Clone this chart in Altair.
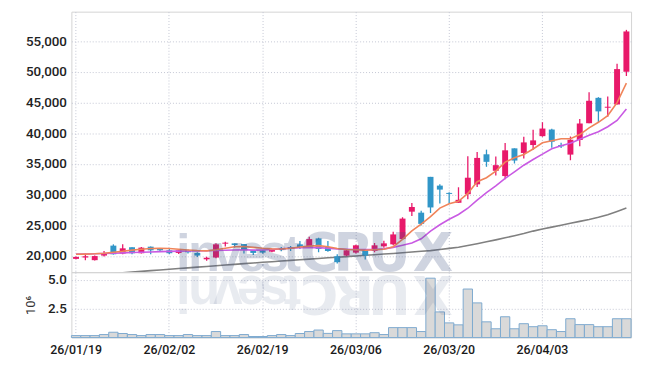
import altair as alt
import pandas as pd

# ---------------- data ----------------
dates = [
    "26/01/19", "26/01/20", "26/01/21", "26/01/22", "26/01/23", "26/01/26", "26/01/27", "26/01/28", "26/01/29", "26/01/30",
    "26/02/02", "26/02/03", "26/02/04", "26/02/05", "26/02/06", "26/02/09", "26/02/10", "26/02/11", "26/02/12", "26/02/13",
    "26/02/19", "26/02/20", "26/02/23", "26/02/24", "26/02/25", "26/02/26", "26/02/27", "26/03/03", "26/03/04", "26/03/05",
    "26/03/06", "26/03/09", "26/03/10", "26/03/11", "26/03/12", "26/03/13", "26/03/16", "26/03/17", "26/03/18", "26/03/19",
    "26/03/20", "26/03/23", "26/03/24", "26/03/25", "26/03/26", "26/03/27", "26/03/30", "26/03/31", "26/04/01", "26/04/02",
    "26/04/03", "26/04/06", "26/04/07", "26/04/08", "26/04/09", "26/04/10", "26/04/13", "26/04/14", "26/04/15", "26/04/16",
]
opens = [
    19520, 19740, 19310, 20060, 21680, 20380, 21400, 20440, 21510, 21190,
    20920, 20490, 20870, 20490, 19450, 19740, 22000, 22050, 21940, 20920,
    20920, 20700, 21190, 21460, 21890, 21570, 22860, 21460, 19950, 20060,
    20540, 20970, 20810, 21570, 21890, 22750, 27220, 27060, 32900, 31470,
    30280, 28670, 30070, 31680, 36580, 33890, 33030, 37550, 36800, 38090,
    39540, 40620, 38090, 36530, 38900, 41650, 45790, 44180, 44710, 50050,
]
highs = [
    19900, 20380, 20050, 20810, 21890, 21890, 21420, 21460, 21540, 21240,
    21240, 21080, 21080, 20600, 19850, 22050, 22320, 22050, 21940, 20920,
    20980, 21190, 21460, 21620, 22430, 23130, 22970, 22430, 20270, 21140,
    21840, 21080, 22110, 22480, 23940, 26310, 28620, 27390, 32900, 31680,
    30390, 31200, 36260, 36960, 37340, 36210, 38410, 37550, 39440, 40570,
    41810, 40730, 38470, 39480, 42350, 46710, 45900, 46010, 51340, 56880,
]
lows = [
    19450, 19300, 19250, 19900, 20220, 20270, 20270, 20380, 20270, 20800,
    20270, 20330, 20380, 19840, 19200, 19630, 21520, 21360, 20390, 20170,
    20380, 20600, 20760, 20810, 21140, 21350, 20600, 20700, 18770, 19950,
    20380, 19410, 20600, 21350, 21730, 22640, 26520, 24960, 27000, 28560,
    28560, 28670, 29260, 31250, 34540, 33140, 32490, 35080, 35880, 37340,
    39440, 37660, 37610, 35610, 37880, 41650, 41750, 42720, 44710, 49350,
]
closes = [
    19840, 19950, 19980, 20440, 20270, 21240, 20440, 21350, 20920, 20920,
    20440, 20920, 20600, 20060, 19700, 21890, 22160, 21780, 21030, 20490,
    20540, 21135, 21030, 21140, 21350, 22750, 21140, 20810, 18980, 20920,
    21730, 20060, 21730, 22050, 23510, 26090, 27980, 25230, 27910, 30820,
    30120, 29150, 32760, 35990, 35350, 34810, 37230, 35560, 38520, 38850,
    40780, 38630, 37880, 38950, 41590, 45310, 43580, 44340, 50480, 56620,
]
volumes = [  # in 10^6 shares
    0.17, 0.17, 0.17, 0.26, 0.46, 0.35, 0.26, 0.17, 0.26, 0.26,
    0.17, 0.17, 0.26, 0.17, 0.17, 0.52, 0.17, 0.17, 0.26, 0.09,
    0.09, 0.17, 0.26, 0.17, 0.35, 0.52, 0.65, 0.36, 0.60, 0.32,
    0.32, 0.32, 0.42, 0.26, 0.86, 0.86, 0.86, 0.52, 5.14, 2.22,
    1.27, 1.10, 4.20, 3.00, 1.36, 0.76, 1.80, 0.76, 1.20, 0.94,
    1.02, 0.68, 0.52, 1.63, 1.12, 1.12, 0.94, 0.94, 1.63, 1.63,
]
ma5 = [
    20270, 20300, 20350, 20450, 20600, 20750, 20950, 21100, 21200, 21250,
    21200, 21100, 20980, 20880, 20820, 21000, 21250, 21500, 21550, 21400,
    21250, 21150, 21130, 21250, 21450, 21600, 21680, 21500, 21200, 21050,
    21000, 20930, 21000, 21100, 21500, 22700, 24100, 25200, 26400, 27800,
    28500, 28900, 30200, 32100, 32760, 33840, 35300, 36000, 36550, 37450,
    38450, 38800, 39110, 39110, 39800, 40900, 41800, 42900, 45000, 48200,
]
ma10 = [
    20300, 20320, 20350, 20400, 20450, 20500, 20550, 20600, 20650, 20700,
    20740, 20780, 20800, 20830, 20850, 20880, 20920, 20960, 21000, 20950,
    20980, 21050, 21150, 21250, 21350, 21380, 21350, 21250, 21150, 21100,
    21050, 21030, 21030, 21150, 21400, 21750, 22100, 22800, 24040, 25080,
    25980, 26760, 27780, 29100, 30340, 31410, 32650, 33720, 34800, 35730,
    36600, 37480, 37980, 38400, 39040, 39700, 40250, 41070, 42100, 43960,
]
ma60 = [
    16700, 16810, 16920, 17030, 17140, 17250, 17370, 17480, 17600, 17710,
    17830, 17940, 18050, 18170, 18280, 18400, 18510, 18620, 18740, 18850,
    18960, 19060, 19170, 19270, 19380, 19480, 19590, 19690, 19790, 19890,
    20000, 20100, 20200, 20310, 20410, 20520, 20630, 20750, 20870, 21050,
    21230, 21430, 21700, 22000, 22300, 22620, 22950, 23300, 23650, 24050,
    24400, 24700, 25000, 25320, 25640, 25950, 26300, 26730, 27250, 27800,
]
tick_dates = ["26/01/19", "26/02/02", "26/02/19", "26/03/06", "26/03/20", "26/04/03"]
price_ticks = [20000, 25000, 30000, 35000, 40000, 45000, 50000, 55000]
vol_ticks = [2.5, 5.0]
wm_lower = list("invest")
wm_upper = list("CRUX")

# ---------------- styling ----------------
PINK = "#e8196a"
BLUE = "#3196c8"
ORANGE = "#f0845a"
PURPLE = "#c95ae3"
GRAY = "#808080"
GRID = "#c3c6d3"
FONT = "Roboto, DejaVu Sans Condensed, sans-serif"
W = 565
H_PRICE = 263
H_VOL = 66

df = pd.DataFrame({
    "date": dates, "open": opens, "high": highs, "low": lows, "close": closes,
    "vol": volumes, "ma5": ma5, "ma10": ma10, "ma60": ma60,
})
df["dir"] = ["up" if c >= o else "down" for o, c in zip(opens, closes)]

# watermark letter centres (pixels from plot left edge)
wm_lo = pd.DataFrame({"letter": wm_lower, "px": [113, 134, 158, 182, 205, 223]})
wm_up = pd.DataFrame({"letter": wm_upper, "px": [250, 285, 321, 365]})

xscale = alt.Scale(paddingInner=0, paddingOuter=0)
color = alt.Color("dir:N", scale=alt.Scale(domain=["up", "down"], range=[PINK, BLUE]), legend=None)

x_price = alt.X(
    "date:O", sort=dates, scale=xscale,
    axis=alt.Axis(values=tick_dates, labels=False, ticks=False, domain=False, title=None,
                  grid=True, gridColor=GRID, gridDash=[1, 2], bandPosition=0.5,
                  minExtent=0, maxExtent=0),
)
yscale = alt.Scale(domain=[17350, 59850], nice=False, zero=False)
price_axis = alt.Axis(values=price_ticks, format=",d", title=None, ticks=False, domain=False,
                      labelPadding=5, labelFontSize=13.5, labelFont=FONT, labelFontWeight=500,
                      labelColor="#222", labelOverlap=False,
                      grid=True, gridColor=GRID, gridDash=[1, 2], minExtent=58, maxExtent=58)


def py(field):
    return alt.Y(field, type="quantitative", scale=yscale, axis=price_axis)


base = alt.Chart(df)
wick = base.mark_rule(strokeWidth=1.3).encode(x=x_price, y=py("low"), y2="high:Q", color=color)
body = base.mark_bar(size=6).encode(x=x_price, y=py("open"), y2="close:Q", color=color)
line60 = base.mark_line(color=GRAY, strokeWidth=1.6, clip=True).encode(x=x_price, y=py("ma60"))
line10 = base.mark_line(color=PURPLE, strokeWidth=1.6, clip=True).encode(x=x_price, y=py("ma10"))
line5 = base.mark_line(color=ORANGE, strokeWidth=1.6, clip=True).encode(x=x_price, y=py("ma5"))


def watermark(frame, font, y, opacity, angle=0):
    return alt.Chart(frame).mark_text(
        font=font, fontSize=53, fontWeight="bold", color="#3c5080", opacity=opacity,
        baseline="alphabetic", align="center", angle=angle,
    ).encode(x=alt.X("px:Q", scale=None, axis=None), y=alt.value(y), text="letter:N")


price = alt.layer(
    line60, wick, body, line10, line5,
    watermark(wm_lo, "Liberation Sans", H_PRICE - 1, 0.24),
    watermark(wm_up, "DejaVu Sans", H_PRICE - 1, 0.24),
).properties(width=W, height=H_PRICE)

x_vol = alt.X(
    "date:O", sort=dates, scale=xscale,
    axis=alt.Axis(values=tick_dates, labelAngle=0, ticks=False, domain=False, title=None,
                  labelPadding=6, labelFontSize=12.5, labelFont=FONT, labelFontWeight=500,
                  labelColor="#1a1a1a", labelOverlap=False,
                  grid=True, gridColor=GRID, gridDash=[1, 2], bandPosition=0.5),
)
vol_axis = alt.Axis(values=vol_ticks, format=".1f", title="10⁶", ticks=False, domain=False,
                    labelPadding=5, labelFontSize=13.5, labelFont=FONT, labelFontWeight=500,
                    labelColor="#222", labelOverlap=False,
                    titleFont=FONT, titleFontSize=13, titleFontWeight="normal", titleColor="#333",
                    titlePadding=10, grid=True, gridColor=GRID, gridDash=[1, 2],
                    minExtent=24, maxExtent=30)
vbars = alt.Chart(df).mark_bar(fill="#d9d9d9", stroke="#7eaacf", strokeWidth=1).encode(
    x=x_vol, y=alt.Y("vol:Q", scale=alt.Scale(domain=[0, 5.66], nice=False), axis=vol_axis))

volume = alt.layer(
    vbars,
    watermark(wm_lo, "Liberation Sans", 4, 0.11, angle=180),
    watermark(wm_up, "DejaVu Sans", 4, 0.11, angle=180),
).properties(width=W, height=H_VOL)

chart = alt.vconcat(price, volume, spacing=0, bounds="flush").properties(
    padding={"left": 5, "top": 1, "right": 5, "bottom": 5}
).configure_view(stroke="#d3d3d3")

chart.save("out.html", embed_options={"renderer": "svg", "actions": False})
